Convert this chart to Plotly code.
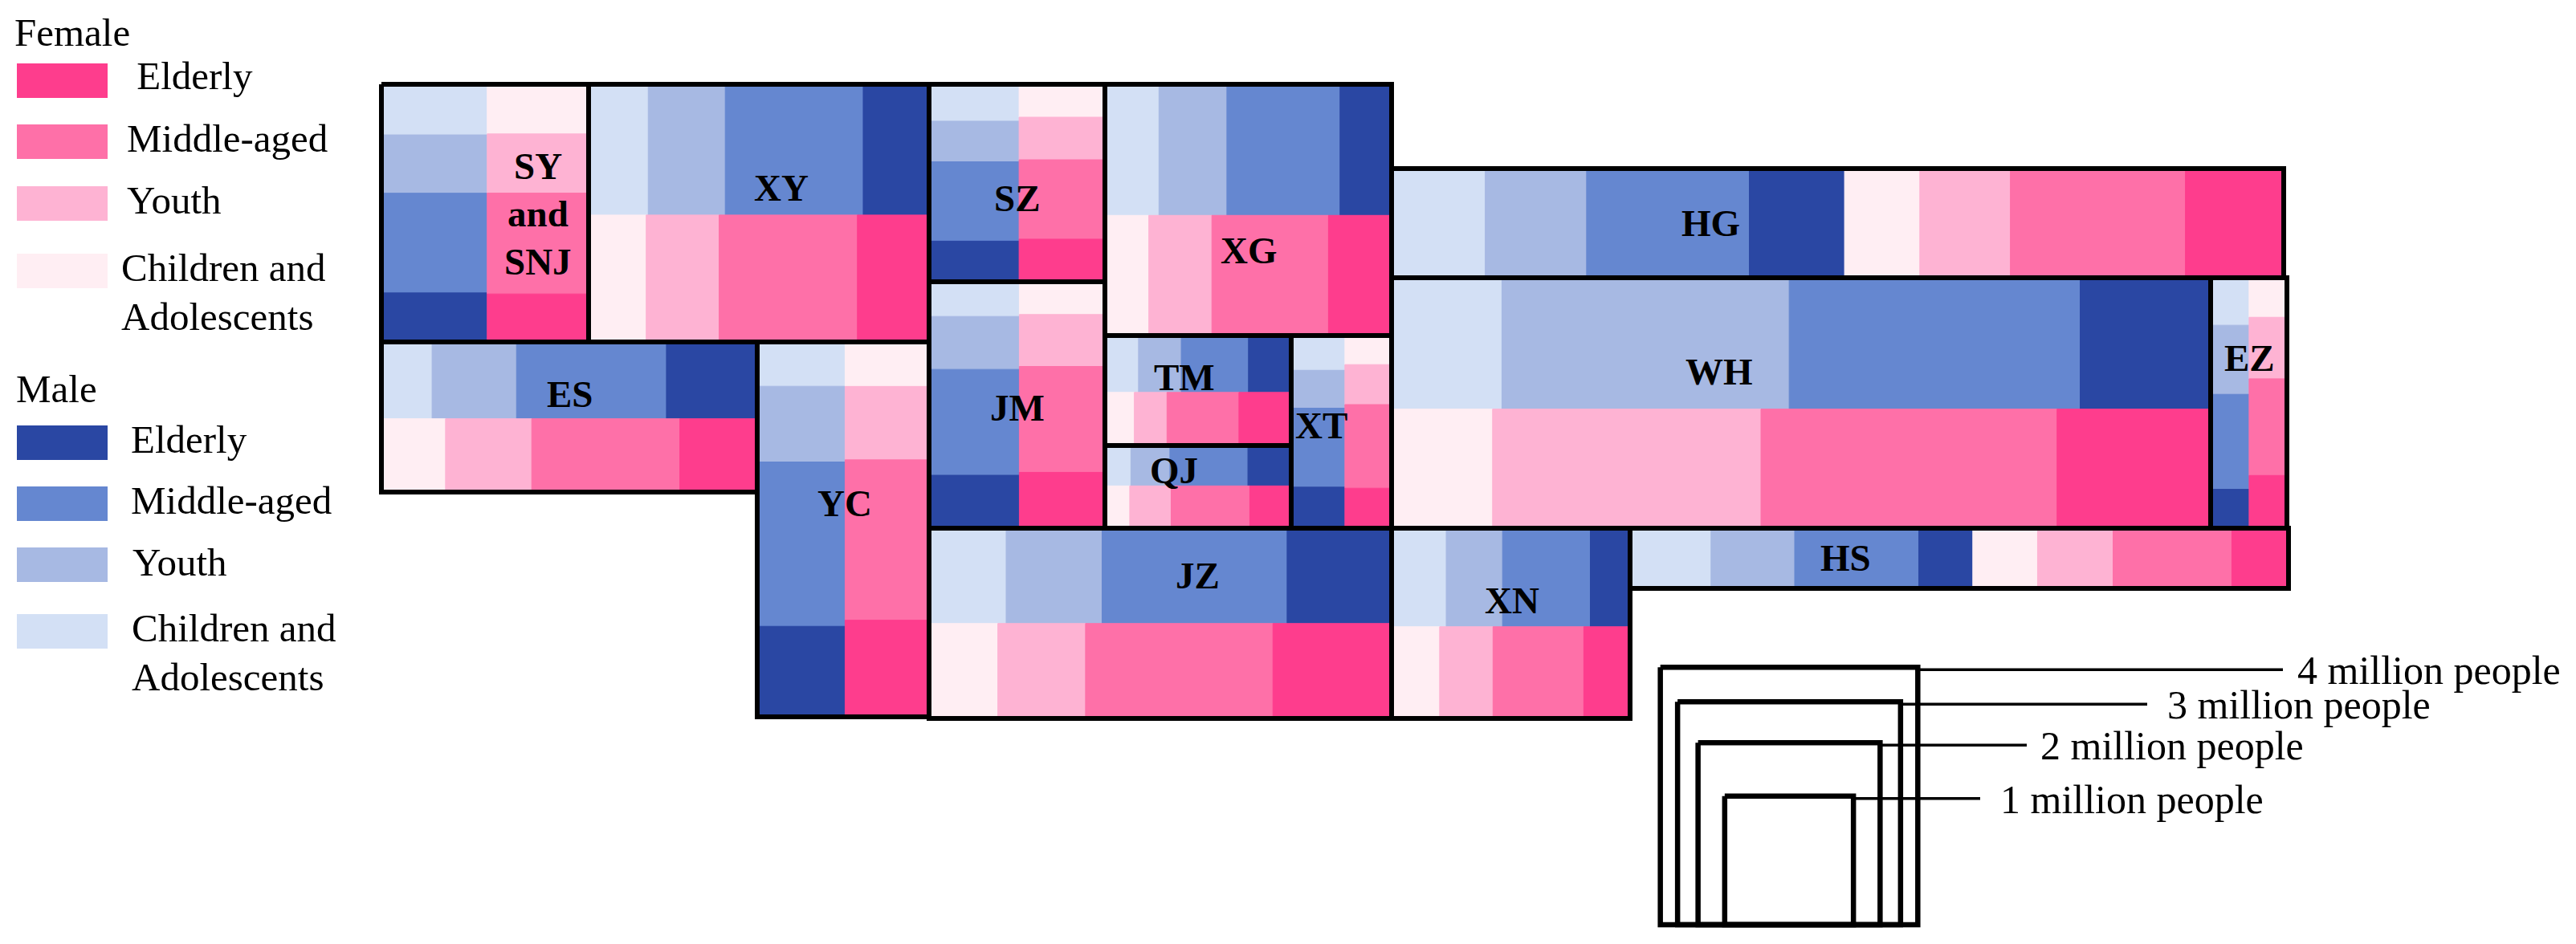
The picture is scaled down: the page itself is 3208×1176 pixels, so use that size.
import math
import plotly.graph_objects as go

W, H = 3208, 1176

# ---------------- data (population, 10,000 persons) -------------
regions = ["SY and SNJ", "XY", "SZ", "XG", "JM", "TM", "QJ", "XT",
           "ES", "YC", "JZ", "XN", "HG", "WH", "EZ", "HS"]
male_children   = [33, 48, 20, 43, 19, 11, 6, 11, 24, 24, 45, 33, 61, 88, 11, 30]
male_youth      = [38, 62, 22, 54, 29, 14, 9, 12, 40, 41, 56, 34, 66, 229, 16, 31]
male_middle     = [65, 111, 43, 90, 58, 22, 18, 25, 71, 89, 108, 53, 106, 232, 22, 46]
male_elderly    = [32, 53, 22, 41, 29, 14, 10, 13, 43, 49, 61, 24, 62, 104, 9, 20]
female_children = [31, 45, 17, 32, 17, 9, 6, 8, 29, 23, 40, 27, 49, 73, 9, 24]
female_youth    = [37, 57, 22, 46, 27, 10, 10, 11, 39, 38, 51, 30, 59, 194, 14, 28]
female_middle   = [63, 108, 41, 85, 55, 22, 19, 23, 67, 83, 109, 51, 114, 214, 22, 44]
female_elderly  = [30, 56, 22, 46, 29, 16, 10, 11, 35, 50, 69, 26, 64, 111, 12, 21]

age_groups = ["Children and Adolescents", "Youth", "Middle-aged", "Elderly"]
scale_values = [4, 3, 2, 1]  # million people
scale_labels = ["4 million people", "3 million people", "2 million people", "1 million people"]

# ---------------- styles / layout -------------
male_colors = ["#D3E0F5", "#A7B9E3", "#6587D0", "#2A47A3"]
female_colors = ["#FFEEF3", "#FEB3D3", "#FE70A8", "#FE3D8D"]
FONT = "Liberation Serif"

# region frames: x0, x1, y0, y1, split mode (v: male left column / h: male top row / row: single row)
FRAMES = {
    "SY and SNJ": (475, 733, 105, 426, "v"),
    "XY": (733, 1157, 105, 426, "h"),
    "SZ": (1157, 1376, 105, 351, "v"),
    "XG": (1376, 1733, 105, 418, "h"),
    "JM": (1157, 1376, 351, 658, "v"),
    "TM": (1376, 1608, 418, 555, "h"),
    "QJ": (1376, 1608, 555, 658, "h"),
    "XT": (1608, 1733, 418, 658, "v"),
    "ES": (475, 943, 426, 613, "h"),
    "YC": (943, 1157, 426, 893, "v"),
    "JZ": (1157, 1733, 658, 895, "h"),
    "XN": (1733, 2030, 658, 895, "h"),
    "HG": (1733, 2844, 210, 346, "row"),
    "WH": (1733, 2753, 346, 658, "h"),
    "EZ": (2753, 2848, 346, 658, "v"),
    "HS": (2030, 2850, 658, 733, "row"),
}
LABELS = {
    "SY and SNJ": [("SY", 670, 207), ("and", 670, 266), ("SNJ", 670, 326)],
    "XY": [("XY", 973, 234)], "SZ": [("SZ", 1267, 247)], "XG": [("XG", 1555, 312)],
    "JM": [("JM", 1267, 508)], "TM": [("TM", 1475, 470)], "QJ": [("QJ", 1462, 586)],
    "XT": [("XT", 1645, 530)], "ES": [("ES", 710, 491)], "YC": [("YC", 1052, 627)],
    "JZ": [("JZ", 1491, 717)], "XN": [("XN", 1883, 748)], "HG": [("HG", 2130, 278)],
    "WH": [("WH", 2141, 463)], "EZ": [("EZ", 2801, 446)], "HS": [("HS", 2298, 695)],
}
SCALE_CX, SCALE_BOTTOM = 2228, 1152
SCALE_LINE_END = [2843, 2674, 2524, 2466]
SCALE_LABEL_X = [2859, 2697, 2539, 2489]

male_series = [male_children, male_youth, male_middle, male_elderly]
female_series = [female_children, female_youth, female_middle, female_elderly]


def region_cells(i):
    x0, x1, y0, y1, mode = FRAMES[regions[i]]
    m = [s[i] for s in male_series]
    f = [s[i] for s in female_series]
    cells = {}
    if mode == "row":
        vals = m + f
        tot = sum(vals)
        x = x0
        for k, v in enumerate(vals):
            w = (x1 - x0) * v / tot
            cells[(k // 4, k % 4)] = (x, x + w, y0, y1)
            x += w
    elif mode == "h":
        ym = y0 + (y1 - y0) * sum(m) / (sum(m) + sum(f))
        for s, (vals, ya, yb) in enumerate([(m, y0, ym), (f, ym, y1)]):
            tot = sum(vals)
            x = x0
            for k, v in enumerate(vals):
                w = (x1 - x0) * v / tot
                cells[(s, k)] = (x, x + w, ya, yb)
                x += w
    else:
        xm = x0 + (x1 - x0) * sum(m) / (sum(m) + sum(f))
        for s, (vals, xa, xb) in enumerate([(m, x0, xm), (f, xm, x1)]):
            tot = sum(vals)
            y = y0
            for k, v in enumerate(vals):
                h = (y1 - y0) * v / tot
                cells[(s, k)] = (xa, xb, y, y + h)
                y += h
    return cells


all_cells = [region_cells(i) for i in range(len(regions))]

fig = go.Figure()

# cells, one trace per sex / age group
for s, (sex, colors) in enumerate([("Male", male_colors), ("Female", female_colors)]):
    for k, age in enumerate(age_groups):
        xs, ys = [], []
        for cells in all_cells:
            xa, xb, ya, yb = cells[(s, k)]
            xs += [xa, xb, xb, xa, xa, None]
            ys += [ya, ya, yb, yb, ya, None]
        fig.add_trace(go.Scatter(
            x=xs, y=ys, mode="lines", fill="toself", fillcolor=colors[k],
            line=dict(color=colors[k], width=1), name=f"{sex} · {age}",
            hoveron="fills", showlegend=False))

# region frames
fx, fy = [], []
for r in regions:
    x0, x1, y0, y1, _ = FRAMES[r]
    fx += [x0, x1, x1, x0, x0, None]
    fy += [y0, y0, y1, y1, y0, None]
fig.add_trace(go.Scatter(x=fx, y=fy, mode="lines", line=dict(color="black", width=6),
                         hoverinfo="skip", showlegend=False))

annotations = []
for r in regions:
    for text, x, y in LABELS[r]:
        annotations.append(dict(x=x, y=y, xref="x", yref="y", text=f"<b>{text}</b>",
                                showarrow=False, borderpad=0,
                                font=dict(family=FONT, size=47, color="black")))

# population scale (squares with area proportional to population)
K = sum((FRAMES[r][1] - FRAMES[r][0]) * (FRAMES[r][3] - FRAMES[r][2]) /
        (sum(s[i] for s in male_series) + sum(s[i] for s in female_series))
        for i, r in enumerate(regions)) / len(regions)  # area units per 10,000 people
sx, sy = [], []
lx, ly = [], []
for j, v in enumerate(scale_values):
    side = math.sqrt(v * 100 * K)
    xa, xb = SCALE_CX - side / 2, SCALE_CX + side / 2
    ya, yb = SCALE_BOTTOM - side, SCALE_BOTTOM
    sx += [xa, xb, xb, xa, xa, None]
    sy += [ya, ya, yb, yb, ya, None]
    lx += [xb, SCALE_LINE_END[j], None]
    ly += [ya + 3, ya + 3, None]
    annotations.append(dict(x=SCALE_LABEL_X[j], y=ya + 4, xref="x", yref="y", text=scale_labels[j],
                            xanchor="left", yanchor="middle", showarrow=False,
                            font=dict(family=FONT, size=50, color="black")))
fig.add_trace(go.Scatter(x=sx, y=sy, mode="lines", line=dict(color="black", width=6.5),
                         hoverinfo="skip", showlegend=False))
fig.add_trace(go.Scatter(x=lx, y=ly, mode="lines", line=dict(color="black", width=3.5),
                         hoverinfo="skip", showlegend=False))

# custom legend
shapes = []
SW_X0, SW_X1 = 21, 134
legend_blocks = [
    ("Female", 16, 40, female_colors,
     [(" Elderly", 3, 79, 156, -6), ("Middle-aged", 2, 155, 156, -4), ("Youth", 1, 232, 156, -4),
      ("Children and|Adolescents", 0, 316, 149, -4)]),
    ("Male", 18, 484, male_colors,
     [("Elderly", 3, 530, 161, -4), ("Middle-aged", 2, 606, 161, -4), ("Youth", 1, 682, 163, -3),
      ("Children and|Adolescents", 0, 765, 162, -4)]),
]
for title, tx, ty, colors, items in legend_blocks:
    annotations.append(dict(x=tx, y=ty, xref="x", yref="y", text=title, xanchor="left",
                            yanchor="middle", showarrow=False,
                            font=dict(family=FONT, size=49, color="black")))
    for label, k, top, lxp, dy in items:
        shapes.append(dict(type="rect", xref="x", yref="y", x0=SW_X0, x1=SW_X1, y0=top, y1=top + 43,
                           fillcolor=colors[k], line=dict(width=0), layer="below"))
        lines = label.split("|")
        for n, line in enumerate(lines):
            annotations.append(dict(x=lxp, y=top + 21 + dy + n * 61, xref="x", yref="y", text=line,
                                    xanchor="left", yanchor="middle", showarrow=False,
                                    font=dict(family=FONT, size=49, color="black")))

fig.update_layout(
    width=W, height=H, margin=dict(l=0, r=0, t=0, b=0),
    paper_bgcolor="white", plot_bgcolor="white",
    xaxis=dict(range=[0, W], visible=False, fixedrange=True),
    yaxis=dict(range=[H, 0], visible=False, fixedrange=True),
    annotations=annotations, shapes=shapes, showlegend=False,
)
fig.write_html("out.html", config={"displayModeBar": False},
               post_script="document.body.style.margin='0';document.body.style.overflow='hidden';")
